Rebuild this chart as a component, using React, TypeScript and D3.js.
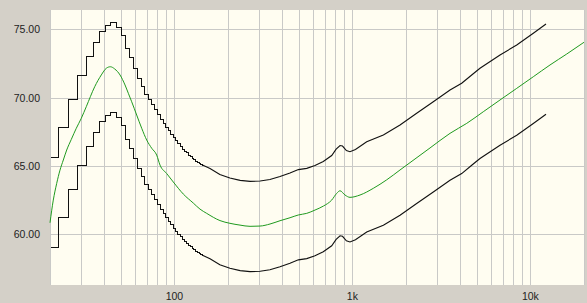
import React, { useEffect, useRef } from 'react';
import * as d3 from 'd3';

// low frequency part of the two black curves is drawn as steps (FFT bins)
const stepFreqs = [
  20, 22.1, 25.1, 28.4, 31.7, 34.7, 37.6, 40.6, 43.7, 46.8, 49.8, 52.8, 55.8, 58.8, 61.8, 64.8, 67.8, 70.8, 73.8,
  76.8, 79.8, 82.8, 85.8, 88.8, 91.8, 94.8, 97.8, 100.8, 103.8, 106.8, 109.8, 112.8, 115.8, 118.8, 121.8, 124.8,
  127.8, 130.8, 133.8, 136.8, 139.8,
];
const upperStepDb = [
  65.68, 67.87, 69.92, 71.69, 73.05, 74.09, 74.88, 75.31, 75.56, 75.17, 74.58, 73.61, 72.94, 72.17, 71.44, 70.85,
  70.3, 69.9, 69.54, 69.17, 68.8, 68.47, 68.18, 67.89, 67.6, 67.34, 67.09, 66.87, 66.65, 66.46, 66.28, 66.13, 65.99,
  65.84, 65.73, 65.62, 65.51, 65.4, 65.29, 65.22, 65.15,
];
const lowerStepDb = [
  59.08, 61.27, 63.32, 65.09, 66.45, 67.49, 68.28, 68.71, 68.96, 68.57, 67.98, 67.01, 66.34, 65.57, 64.84, 64.25,
  63.7, 63.3, 62.94, 62.57, 62.2, 61.87, 61.58, 61.29, 61.0, 60.74, 60.49, 60.27, 60.05, 59.86, 59.68, 59.53, 59.39,
  59.24, 59.13, 59.02, 58.91, 58.8, 58.69, 58.62, 58.55,
];

// rest of the black curves
const smoothFreqs = [
  142.8, 158.5, 180, 205, 234, 266, 303, 344, 392, 446, 497, 554, 616, 686, 765, 810, 852, 880, 925, 969, 1040, 1203,
  1492, 1851, 2296, 2847, 3534, 4111, 4679, 5208, 6749, 8377, 10380, 12234,
];
const upperDb = [
  65.1, 64.82, 64.38, 64.12, 63.95, 63.88, 63.9, 64.01, 64.23, 64.49, 64.74, 64.83, 65.04, 65.33, 65.77, 66.24, 66.5,
  66.46, 66.13, 66.05, 66.21, 66.78, 67.27, 68.0, 68.86, 69.7, 70.56, 71.05, 71.66, 72.15, 73.12, 73.85, 74.71, 75.39,
];
const lowerDb = [
  58.5, 58.22, 57.78, 57.52, 57.35, 57.28, 57.3, 57.41, 57.63, 57.89, 58.14, 58.23, 58.44, 58.73, 59.17, 59.64, 59.9,
  59.86, 59.53, 59.45, 59.61, 60.18, 60.67, 61.4, 62.26, 63.1, 63.96, 64.45, 65.06, 65.55, 66.52, 67.25, 68.11, 68.79,
];

// green average curve
const greenFreqs = [
  20, 20.87, 21.81, 22.76, 23.76, 24.82, 26.35, 28.1, 29.98, 31.98, 35.66, 38.84, 41.43, 43.64, 46.18, 49.48, 52.77,
  55.08, 57.54, 61.38, 65.5, 69.88, 74.55, 79.52, 83, 90.5, 98.6, 112.2, 127.7, 139.2, 151.8, 180.3, 205.2, 233.6,
  265.9, 302.6, 344.4, 392, 446.2, 496.6, 553.8, 616.4, 686.3, 764.9, 816, 851.6, 908.7, 969.2, 1103, 1310.6, 1558,
  1850.6, 2728, 3534, 4386, 5436, 6749, 8377, 10380, 12884, 15990, 20000,
];
const greenDb = [
  60.85, 62.51, 63.73, 64.7, 65.44, 66.17, 66.95, 67.76, 68.49, 69.34, 70.8, 71.66, 72.15, 72.26, 72.1, 71.66, 70.93,
  70.32, 69.7, 68.73, 67.76, 66.9, 66.3, 65.8, 65.07, 64.45, 63.83, 62.95, 62.29, 61.85, 61.54, 61.01, 60.81, 60.68,
  60.59, 60.61, 60.76, 61.0, 61.22, 61.42, 61.54, 61.78, 62.07, 62.51, 63.0, 63.19, 62.88, 62.71, 62.88, 63.37, 63.99,
  64.71, 66.32, 67.39, 68.12, 68.97, 69.83, 70.68, 71.53, 72.39, 73.19, 74.05,
];

const yTicks = [60, 65, 70, 75];
const xLabelTicks = [100, 1000, 10000];
const xLabels = ['100', '1k', '10k'];

const App = () => {
  const ref = useRef<SVGSVGElement>(null);

  useEffect(() => {
    const svg = d3.select(ref.current);
    svg.selectAll('*').remove();

    const width = 587,
      height = 303;
    const plot = { left: 50, right: 584, top: 10, bottom: 285 };

    svg.append('rect').attr('width', width).attr('height', height).attr('fill', '#d4d0c8');

    const x = d3.scaleLog().domain([20, 20000]).range([plot.left, plot.right]);
    const y = d3.scaleLinear().domain([56.3, 76.41]).range([plot.bottom, plot.top]);

    svg
      .append('rect')
      .attr('x', plot.left)
      .attr('y', plot.top)
      .attr('width', plot.right - plot.left)
      .attr('height', plot.bottom - plot.top)
      .attr('fill', '#fffdf1');

    // vertical grid: every 1..9 per decade
    const gridFreqs: number[] = [];
    [10, 100, 1000, 10000].forEach((dec) => {
      for (let m = 1; m <= 9; m++) {
        const f = dec * m;
        if (f >= 20 && f <= 20000) gridFreqs.push(f);
      }
    });
    gridFreqs.push(20000);

    svg
      .append('g')
      .selectAll('line')
      .data(gridFreqs)
      .enter()
      .append('line')
      .attr('x1', (d) => Math.round(x(d)) + 0.5)
      .attr('x2', (d) => Math.round(x(d)) + 0.5)
      .attr('y1', plot.top)
      .attr('y2', plot.bottom)
      .attr('stroke', '#c9c9c7')
      .attr('stroke-width', 1);

    svg
      .append('g')
      .selectAll('line')
      .data(yTicks)
      .enter()
      .append('line')
      .attr('x1', plot.left)
      .attr('x2', plot.right)
      .attr('y1', (d) => Math.round(y(d)) + 0.5)
      .attr('y2', (d) => Math.round(y(d)) + 0.5)
      .attr('stroke', '#c9c9c7')
      .attr('stroke-width', 1);

    // y labels
    svg
      .append('g')
      .selectAll('text')
      .data(yTicks)
      .enter()
      .append('text')
      .attr('x', 40)
      .attr('y', (d) => y(d) + 4)
      .attr('text-anchor', 'end')
      .attr('font-family', 'Liberation Sans, Arial, sans-serif')
      .attr('font-size', 10.5)
      .attr('fill', '#222')
      .text((d) => d.toFixed(2));

    // x labels
    svg
      .append('g')
      .selectAll('text')
      .data(xLabelTicks)
      .enter()
      .append('text')
      .attr('x', (d) => x(d))
      .attr('y', 300)
      .attr('text-anchor', 'middle')
      .attr('font-family', 'Liberation Sans, Arial, sans-serif')
      .attr('font-size', 10.5)
      .attr('fill', '#222')
      .text((d, i) => xLabels[i]);

    const stepLine = d3
      .line<[number, number]>()
      .x((d) => Math.round(x(d[0])) + 0.5)
      .y((d) => Math.round(y(d[1])) + 0.5)
      .curve(d3.curveStepAfter);
    const smoothLine = d3
      .line<[number, number]>()
      .x((d) => x(d[0]))
      .y((d) => y(d[1]));

    const drawBlack = (steps: number[], smooth: number[]) => {
      const sp: [number, number][] = stepFreqs.map((f, i) => [f, steps[i]]);
      const mp: [number, number][] = smoothFreqs.map((f, i) => [f, smooth[i]]);
      // staircase part, pixel aligned like the original
      svg
        .append('path')
        .attr('d', stepLine([...sp, mp[0]]) ?? '')
        .attr('fill', 'none')
        .attr('stroke', '#111')
        .attr('stroke-width', 1)
        .attr('shape-rendering', 'crispEdges');
      svg
        .append('path')
        .attr('d', smoothLine([[sp[sp.length - 1][0], sp[sp.length - 1][1]], ...mp].slice(1)) ?? '')
        .attr('fill', 'none')
        .attr('stroke', '#111')
        .attr('stroke-width', 1.1);
    };
    drawBlack(upperStepDb, upperDb);
    drawBlack(lowerStepDb, lowerDb);

    const gp: [number, number][] = greenFreqs.map((f, i) => [f, greenDb[i]]);
    svg
      .append('path')
      .attr('d', d3.line<[number, number]>().x((d) => x(d[0])).y((d) => y(d[1])).curve(d3.curveMonotoneX)(gp) ?? '')
      .attr('fill', 'none')
      .attr('stroke', '#1f9a1f')
      .attr('stroke-width', 1);
  }, []);

  return (
    <svg
      ref={ref}
      width={587}
      height={303}
      style={{ position: 'absolute', left: 0, top: 0, display: 'block' }}
    ></svg>
  );
};

export default App;
